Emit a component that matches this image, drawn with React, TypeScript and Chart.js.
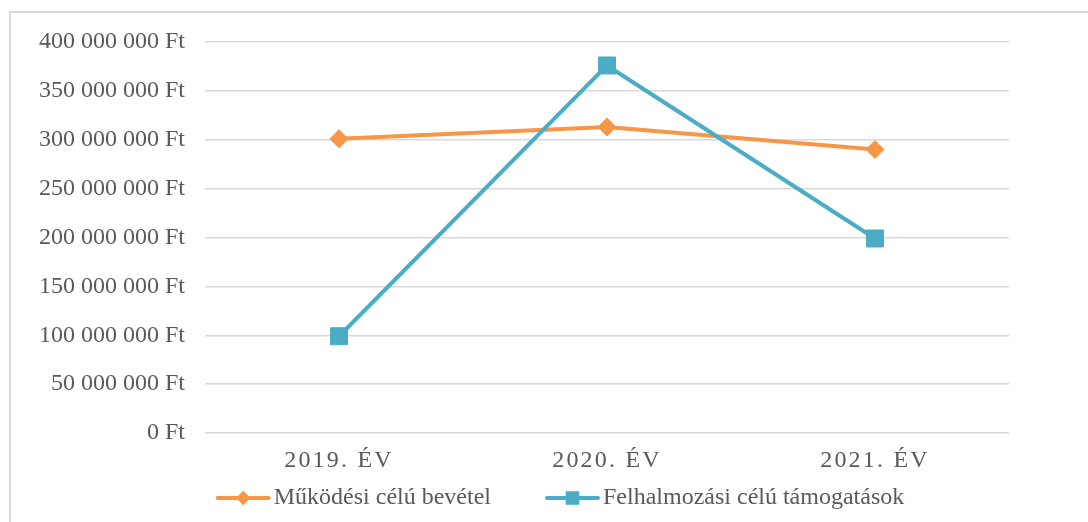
import React, { useEffect, useRef } from 'react';
import { Chart, CategoryScale, registerables } from 'chart.js';

// ---------- DATA ----------
const categories = ['2019. ÉV', '2020. ÉV', '2021. ÉV'];
const seriesNames = ['Működési célú bevétel', 'Felhalmozási célú támogatások'];
const mukodesiValues = [301000000, 313000000, 290000000];
const felhalmozasiValues = [99000000, 376000000, 199000000];
const yTickValues = [0, 50000000, 100000000, 150000000, 200000000, 250000000, 300000000, 350000000, 400000000];

// ---------- STYLE ----------
const FONT = '"Liberation Serif", "Times New Roman", serif';
const TEXT_COLOR = '#595959';
const GRID_COLOR = '#D9D9D9';
const ORANGE = '#F79646';
const BLUE = '#4BACC6';

class SpacedCategoryScale extends CategoryScale {
  static id = 'spacedCategory';
  static defaults = CategoryScale.defaults;
  drawLabels(area: any) {
    const ctx: any = this.ctx;
    ctx.save();
    ctx.letterSpacing = '2.2px';
    // @ts-ignore
    super.drawLabels(area);
    ctx.restore();
  }
}

Chart.register(...registerables, SpacedCategoryScale);

const formatFt = (v: number) =>
  String(Math.round(v)).replace(/\B(?=(\d{3})+(?!\d))/g, ' ') + ' Ft';

const lineLegend = {
  id: 'lineLegend',
  afterDraw(chart: any, _args: any, opts: any) {
    const ctx = chart.ctx;
    ctx.save();
    ctx.font = `${opts.fontSize}px ${opts.fontFamily}`;
    ctx.textBaseline = 'middle';
    ctx.textAlign = 'left';
    const items = chart.data.datasets.map((ds: any) => ({
      ds,
      w: ctx.measureText(ds.label).width,
    }));
    const total =
      items.reduce((s: number, it: any) => s + opts.lineLen + opts.textGap + it.w, 0) +
      opts.itemGap * (items.length - 1);
    let x = opts.centerX - total / 2;
    const y = opts.y;
    for (const { ds, w } of items) {
      ctx.strokeStyle = ds.borderColor;
      ctx.lineWidth = ds.borderWidth;
      ctx.lineCap = 'round';
      ctx.beginPath();
      ctx.moveTo(x + 2, y);
      ctx.lineTo(x + opts.lineLen - 2, y);
      ctx.stroke();
      const cx = x + opts.lineLen / 2;
      const r = ds.pointRadius * opts.markerScale;
      ctx.fillStyle = ds.pointBackgroundColor;
      ctx.beginPath();
      if (ds.pointStyle === 'rectRot') {
        ctx.moveTo(cx, y - r);
        ctx.lineTo(cx + r, y);
        ctx.lineTo(cx, y + r);
        ctx.lineTo(cx - r, y);
        ctx.closePath();
      } else {
        const s = r * Math.SQRT1_2;
        ctx.rect(cx - s, y - s, 2 * s, 2 * s);
      }
      ctx.fill();
      ctx.fillStyle = opts.color;
      ctx.fillText(ds.label, x + opts.lineLen + opts.textGap, y);
      x += opts.lineLen + opts.textGap + w + opts.itemGap;
    }
    ctx.restore();
  },
};

export default function App() {
  const canvasRef = useRef<HTMLCanvasElement | null>(null);

  useEffect(() => {
    if (!canvasRef.current) return;
    const chart = new Chart(canvasRef.current, {
      type: 'line',
      data: {
        labels: categories,
        datasets: [
          {
            label: seriesNames[0],
            data: mukodesiValues,
            borderColor: ORANGE,
            backgroundColor: ORANGE,
            borderWidth: 4,
            pointStyle: 'rectRot',
            pointRadius: 9,
            pointBackgroundColor: ORANGE,
            pointBorderColor: ORANGE,
            pointBorderWidth: 1,
            tension: 0,
            order: 1,
            borderJoinStyle: 'round',
          },
          {
            label: seriesNames[1],
            data: felhalmozasiValues,
            borderColor: BLUE,
            backgroundColor: BLUE,
            borderWidth: 4,
            pointStyle: 'rect',
            pointRadius: 12,
            pointBackgroundColor: BLUE,
            pointBorderColor: BLUE,
            pointBorderWidth: 1,
            tension: 0,
            order: 0,
            borderJoinStyle: 'round',
          },
        ],
      },
      options: {
        responsive: false,
        animation: false,
        devicePixelRatio: 1,
        layout: { padding: { left: 0, right: 79, top: 42, bottom: 47 } },
        plugins: {
          legend: { display: false },
          tooltip: { enabled: false },
          // @ts-ignore
          lineLegend: {
            centerX: 560,
            y: 498,
            lineLen: 55,
            textGap: 3,
            itemGap: 54,
            markerScale: 0.8,
            fontSize: 24,
            fontFamily: FONT,
            color: TEXT_COLOR,
          },
        },
        scales: {
          x: {
            // @ts-ignore
            type: 'spacedCategory',
            offset: true,
            grid: { display: false, drawTicks: false },
            border: { display: false },
            ticks: {
              color: TEXT_COLOR,
              font: { family: FONT, size: 24 },
              padding: 13,
              maxRotation: 0,
              autoSkip: false,
            },
            afterFit: (s: any) => {
              s.height = 42;
            },
          },
          y: {
            min: yTickValues[0],
            max: yTickValues[yTickValues.length - 1],
            grid: { color: GRID_COLOR, lineWidth: 1.5, drawTicks: false },
            border: { display: false },
            ticks: {
              stepSize: yTickValues[1] - yTickValues[0],
              padding: 20,
              color: TEXT_COLOR,
              font: { family: FONT, size: 24 },
              callback: (v: any) => formatFt(Number(v)),
            },
            afterFit: (s: any) => {
              s.width = 205;
            },
          },
        },
      },
      plugins: [lineLegend],
    });
    return () => chart.destroy();
  }, []);

  return (
    <div
      style={{
        position: 'fixed',
        left: 0,
        top: 0,
        width: 1088,
        height: 522,
        overflow: 'hidden',
        background: '#fff',
      }}
    >
      <div
        style={{
          position: 'absolute',
          left: 9,
          top: 11,
          width: 1200,
          height: 700,
          border: '2px solid ' + GRID_COLOR,
          boxSizing: 'border-box',
        }}
      />
      <canvas
        ref={canvasRef}
        width={1088}
        height={522}
        style={{ position: 'absolute', left: 0, top: 0, width: 1088, height: 522 }}
      />
    </div>
  );
}
